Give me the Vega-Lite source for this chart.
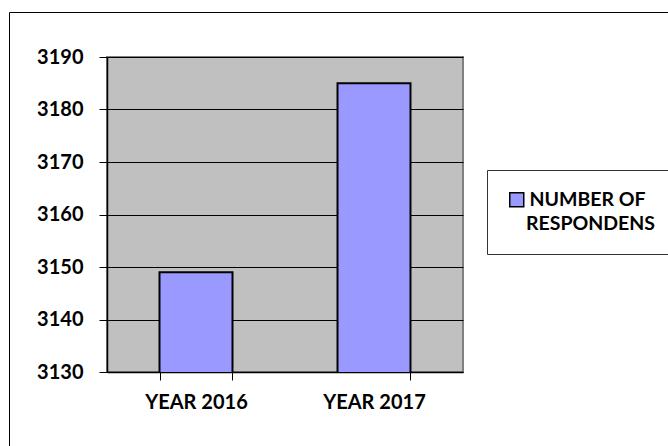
{
  "$schema": "https://vega.github.io/schema/vega-lite/v6.json",
  "autosize": "none",
  "width": 356,
  "height": 315,
  "padding": {"left": 107, "top": 57, "right": 205, "bottom": 74},
  "background": "white",
  "data": {"values": [
    {"year": "YEAR 2016", "respondents": 3149},
    {"year": "YEAR 2017", "respondents": 3185}
  ]},
  "mark": {"type": "bar", "stroke": "black", "strokeWidth": 2, "clip": true},
  "encoding": {
    "x": {"field": "year", "type": "nominal", "title": null,
      "scale": {"paddingInner": 0.59, "paddingOuter": 0.295},
      "axis": {"labelAngle": 0, "tickBand": "extent", "tickSize": 8, "labelPadding": 12}},
    "y": {"field": "respondents", "type": "quantitative", "title": null,
      "scale": {"domain": [3130, 3190], "nice": false, "zero": false},
      "axis": {"values": [3130, 3140, 3150, 3160, 3170, 3180, 3190], "format": "d", "tickSize": 8, "labelPadding": 16, "grid": true}},
    "fill": {"datum": "NUMBER OF", "type": "nominal", "scale": {"range": ["#9999FF"]},
      "legend": {"orient": "none", "legendX": 380, "legendY": 113, "padding": 20,
        "title": "\u200b\u00a0\u00a0\u00a0\u00a0RESPONDENS", "titleOrient": "bottom", "titleAnchor": "start",
        "titlePadding": 5, "strokeColor": "#333333", "symbolType": "square", "symbolSize": 196,
        "symbolStrokeColor": "black", "symbolStrokeWidth": 1.5, "labelOffset": 3}},
    "strokeDash": {"datum": "frame", "type": "nominal", "scale": {"range": [[1, 0]]},
      "legend": {"orient": "none", "legendX": -98, "legendY": -45, "padding": 600,
        "strokeColor": "black", "title": null, "labelExpr": "''", "labelOpacity": 0, "symbolOpacity": 0, "symbolSize": 1}}
  },
  "config": {
    "view": {"fill": "#C0C0C0", "stroke": "#808080", "strokeWidth": 2},
    "font": "Lato",
    "axis": {"domainColor": "black", "domainWidth": 1.5, "tickColor": "black", "gridColor": "black", "gridWidth": 1,
      "labelFont": "Lato", "labelFontSize": 20, "labelFontWeight": "bold", "labelColor": "black"},
    "legend": {"labelFont": "Lato", "labelFontSize": 19.5, "labelFontWeight": "bold", "labelColor": "black",
      "titleFont": "Lato", "titleFontSize": 19.5, "titleFontWeight": "bold", "titleColor": "black", "labelLimit": 400, "titleLimit": 400}
  }
}
